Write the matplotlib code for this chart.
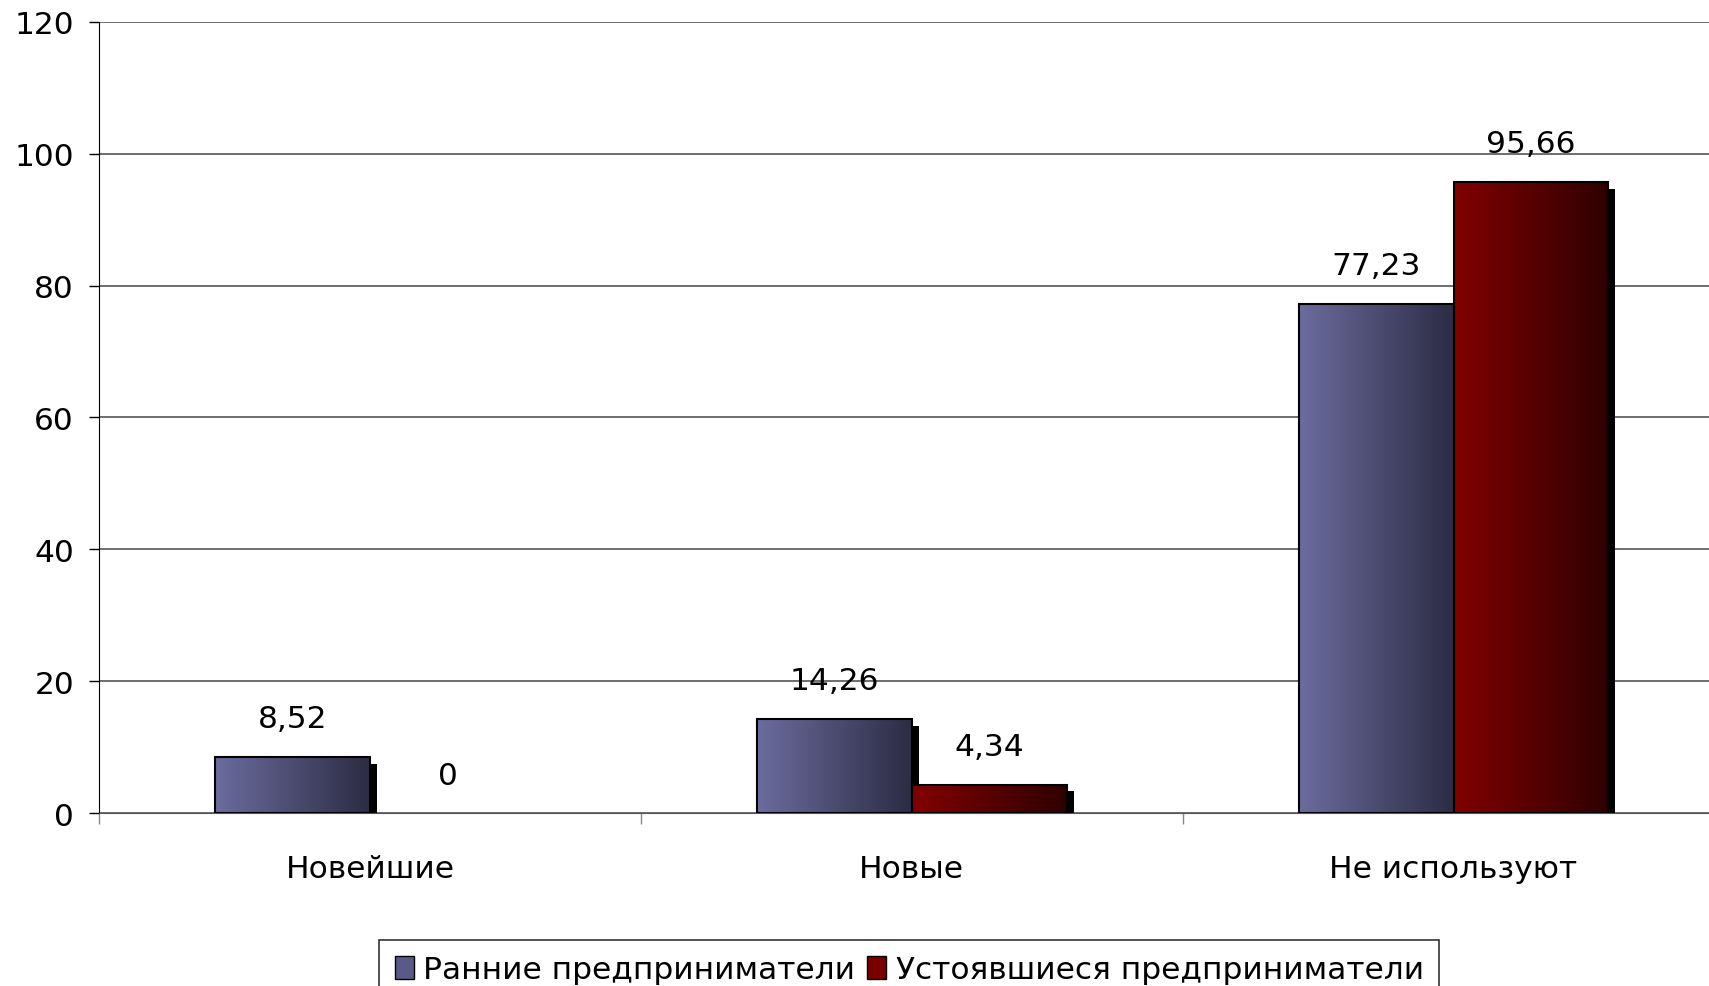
import numpy as np
import matplotlib.pyplot as plt
from matplotlib.colors import LinearSegmentedColormap
from matplotlib.patches import Rectangle

categories = ['Новейшие', 'Новые', 'Не используют']
series_names = ['Ранние предприниматели', 'Устоявшиеся предприниматели']
early = [8.52, 14.26, 77.23]
established = [0, 4.34, 95.66]
labels_early = ['8,52', '14,26', '77,23']
labels_est = ['0', '4,34', '95,66']

grad_colors = [('#6c6c9e', '#2c2c44'), ('#820000', '#2e0000')]
legend_colors = ['#5a5a88', '#7a0000']

plt.rcParams['font.family'] = ['DejaVu Sans']

fig = plt.figure(figsize=(17.09, 9.87), dpi=100)
ax = fig.add_axes([0.058, 0.175, 0.951, 0.802])

width = 0.286
x = np.arange(len(categories))
# shadow offset in data units
sdx, sdy = 0.013, 1.0


def gradient_bar(x0, h, c0, c1):
    if h <= 0:
        return
    ax.add_patch(Rectangle((x0 + sdx, 0), width, h - sdy, facecolor='black',
                           edgecolor='none', zorder=2))
    cmap = LinearSegmentedColormap.from_list('g', [c0, c1])
    grad = np.linspace(0, 1, 256).reshape(1, -1)
    ax.imshow(grad, cmap=cmap, aspect='auto', extent=(x0, x0 + width, 0, h),
              zorder=3, interpolation='bicubic')
    ax.add_patch(Rectangle((x0, 0), width, h, facecolor='none',
                           edgecolor='black', linewidth=1.5, zorder=4))


for i in range(len(categories)):
    gradient_bar(x[i] - width, early[i], *grad_colors[0])
    gradient_bar(x[i], established[i], *grad_colors[1])
    ax.text(x[i] - width / 2, early[i] + 5.8, labels_early[i], ha='center',
            va='center', fontsize=22.5, zorder=5)
    ax.text(x[i] + width / 2, established[i] + 5.8, labels_est[i], ha='center',
            va='center', fontsize=22.5, zorder=5)

ax.set_xlim(-0.5, 2.5)
ax.set_ylim(0, 120)
ax.set_yticks(np.arange(0, 121, 20))
ax.tick_params(axis='y', labelsize=22.5, length=7, width=1, pad=11)
ax.yaxis.grid(True, color='#555555', linewidth=1.2)
ax.set_axisbelow(True)

ax.set_xticks(x)
ax.set_xticklabels(categories, fontsize=22.5)
ax.tick_params(axis='x', length=0, pad=29)
ax.set_xticks([-0.5, 0.5, 1.5, 2.5], minor=True)
ax.tick_params(axis='x', which='minor', length=8, width=1, color='#888888')

for s in ['top', 'right']:
    ax.spines[s].set_visible(False)
ax.spines['bottom'].set_color('#555555')
ax.spines['left'].set_color('black')

handles = [Rectangle((0, 0), 1, 1, facecolor=c, edgecolor='black') for c in legend_colors]
leg = fig.legend(handles, series_names, loc='lower center', ncol=2,
                 bbox_to_anchor=(0.532, -0.03), fontsize=22.5, frameon=True,
                 fancybox=False, edgecolor='black', handlelength=0.6,
                 handleheight=0.8, handletextpad=0.3, columnspacing=0.4,
                 borderpad=0.5)
leg.get_frame().set_linewidth(1.2)

fig.savefig('out.png', dpi=100)
